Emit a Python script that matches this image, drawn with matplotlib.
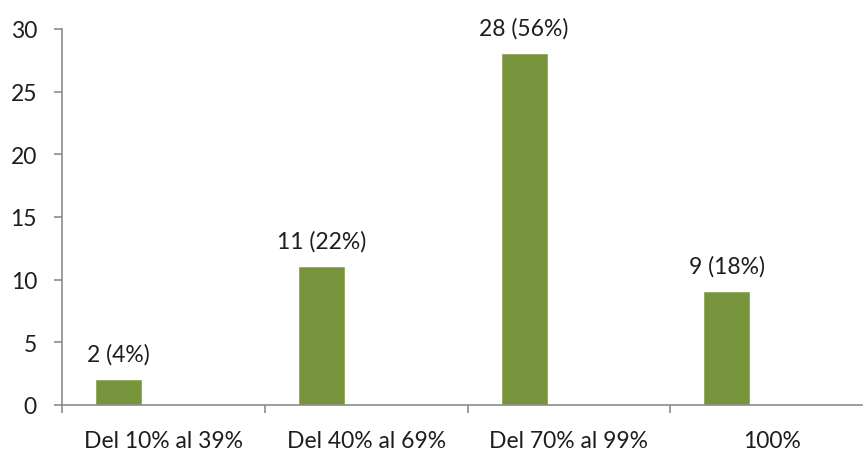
import matplotlib.pyplot as plt
import numpy as np

plt.rcParams["font.family"] = ["Lato", "DejaVu Sans"]

categorias = ["Del 10% al 39%", "Del 40% al 69%", "Del 70% al 99%", "100%"]
valores = [2, 11, 28, 9]
etiquetas = ["2 (4%)", "11 (22%)", "28 (56%)", "9 (18%)"]

verde = "#77933C"
gris = "#8C8C8C"
texto = "#1E1E1E"

fig = plt.figure(figsize=(8.64, 4.52), dpi=100)
ax = fig.add_axes([62 / 864, 46 / 452, 800 / 864, 376 / 452])

x = np.arange(len(categorias))
barras = ax.bar(x - 0.221, valores, width=0.222, color=verde, edgecolor="#8FAA55", linewidth=0.6)

for b, lab in zip(barras, etiquetas):
    ax.annotate(lab, (b.get_x() + b.get_width() / 2, b.get_height()),
                xytext=(0, 11), textcoords="offset points", ha="center", va="bottom",
                fontsize=16.5, color=texto)

ax.set_xlim(-0.5, 3.445)
ax.set_ylim(0, 30)
ax.set_yticks(range(0, 31, 5))
ax.tick_params(axis="y", labelsize=16.5, colors=gris, labelcolor=texto, length=6, width=1.2, pad=12)

# categorias entre marcas, como en Excel
ax.set_xticks([-0.5, 0.5, 1.5, 2.5])
ax.set_xticklabels([])
ax.set_xticks(x, minor=True)
ax.set_xticklabels(categorias, minor=True)
ax.tick_params(axis="x", which="major", colors=gris, length=6, width=1.2)
ax.tick_params(axis="x", which="minor", length=0, labelsize=16.5, labelcolor=texto, pad=18)

for s in ["top", "right"]:
    ax.spines[s].set_visible(False)
for s in ["left", "bottom"]:
    ax.spines[s].set_color(gris)
    ax.spines[s].set_linewidth(1.2)

plt.savefig("out.png", dpi=100)
